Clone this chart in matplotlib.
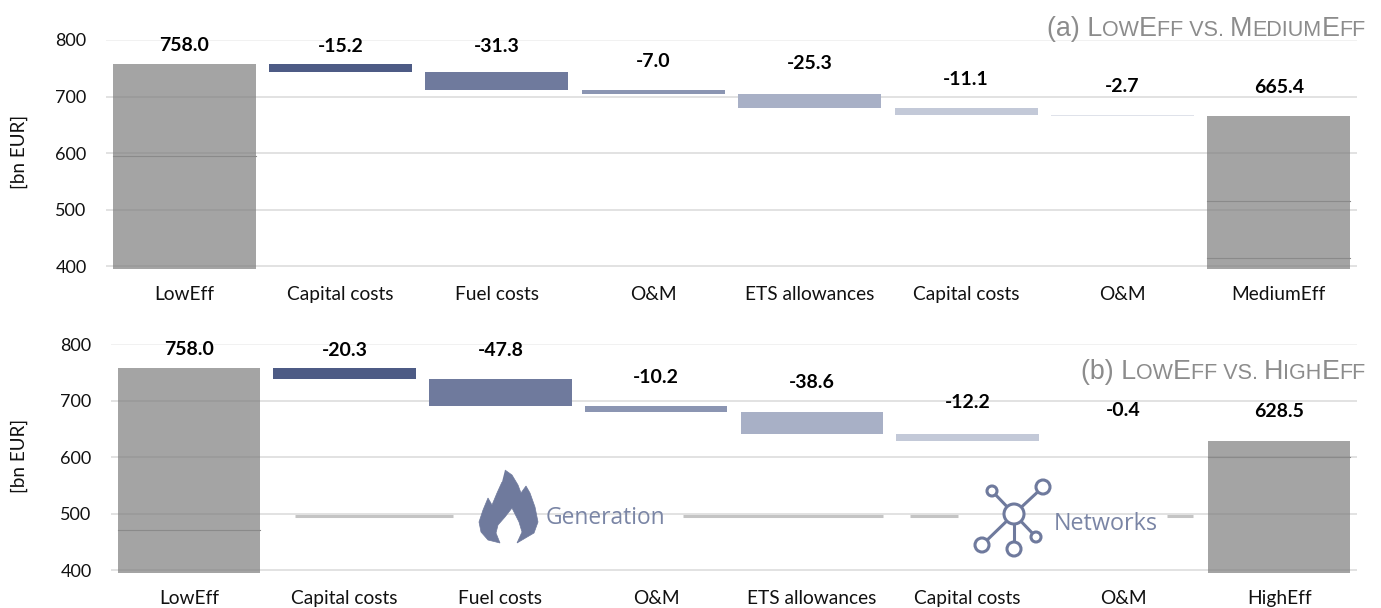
import matplotlib
matplotlib.use("Agg")
import matplotlib.pyplot as plt
from matplotlib.path import Path
from matplotlib.patches import PathPatch, Circle

plt.rcParams["font.family"] = ["Lato", "DejaVu Sans"]

W, H = 1381, 608

# data
cats_a = ["LowEff", "Capital costs", "Fuel costs", "O&M", "ETS allowances", "Capital costs", "O&M", "MediumEff"]
start_a = 758.0
deltas_a = [-15.2, -31.3, -7.0, -25.3, -11.1, -2.7]
end_a = 665.4

cats_b = ["LowEff", "Capital costs", "Fuel costs", "O&M", "ETS allowances", "Capital costs", "O&M", "HighEff"]
start_b = 758.0
deltas_b = [-20.3, -47.8, -10.2, -38.6, -12.2, -0.4]
end_b = 628.5

# thin darker streaks seen inside the grey bars: (bar index, value)
streaks_a = [(0, 595), (7, 515), (7, 415)]
streaks_b = [(0, 470), (7, 600)]

yticks = [400, 500, 600, 700, 800]

# styles / layout
delta_colors = ["#4d5b85", "#6f7a9d", "#8b95b2", "#a8b0c6", "#c3c9d8", "#dfe2ea"]
label_off_a = [18, 17, 26, 29, 30, 29, 28, 29]
label_off_b = [18, 17, 29, 29, 29, 31, 30, 29]
BASE = 394


def px_axes(left, right, top, bottom):
    return fig.add_axes([left / W, 1 - bottom / H, (right - left) / W, (bottom - top) / H])


def waterfall(ax, cats, start, deltas, end, offs, streaks):
    ax.set_xlim(-0.5, 7.5)
    ax.set_ylim(BASE, 800)
    ax.set_yticks(yticks)
    ax.set_xticks(range(8))
    ax.set_xticklabels(cats)
    ax.tick_params(length=0, colors="#111111")
    ax.tick_params(axis="y", pad=14, labelsize=13)
    ax.tick_params(axis="x", pad=12.2, labelsize=13.8)
    for s in ax.spines.values():
        s.set_visible(False)
    for v in yticks:
        ax.axhline(v, color="#f0f0f0" if v == 800 else "#dfdfdf", lw=1.3, zorder=1)
    w = 0.915
    ax.bar([0, 7], [start - BASE, end - BASE], bottom=BASE, width=w, color="#7e7e7e", alpha=0.7, zorder=2, lw=0)
    tops = [start]
    level = start
    for i, d in enumerate(deltas):
        ax.bar(i + 1, -d, bottom=level + d, width=w, color=delta_colors[i], zorder=3, lw=0)
        tops.append(level)
        level += d
    tops.append(end)
    for bar_i, v in streaks:
        ax.plot([bar_i - w / 2, bar_i + w / 2], [v, v], color="#8a8a8a", lw=0.8, zorder=4)
    vals = [start] + deltas + [end]
    for i, v in enumerate(vals):
        ax.annotate(f"{v:.1f}", (i, tops[i]), xytext=(0, offs[i]), textcoords="offset pixels",
                    ha="center", va="center", fontsize=14, fontweight="bold", color="#000000",
                    annotation_clip=False, zorder=6)
    ax.set_ylabel("[bn EUR]", fontsize=13.6, color="#111111")


fig = plt.figure(figsize=(W / 100, H / 100), dpi=100, facecolor="white")

ax1 = px_axes(106, 1357, 40, 269.4)
waterfall(ax1, cats_a, start_a, deltas_a, end_a, label_off_a, streaks_a)
ax1.yaxis.set_label_coords((28 - 106) / 1251, 0.51)

ax2 = px_axes(111, 1357, 344, 573.4)
waterfall(ax2, cats_b, start_b, deltas_b, end_b, label_off_b, streaks_b)
ax2.yaxis.set_label_coords((28 - 111) / 1246, 0.51)

# overlay in pixel coordinates for titles and the icons
ov = fig.add_axes([0, 0, 1, 1], zorder=10)
ov.set_xlim(0, W)
ov.set_ylim(H, 0)
ov.axis("off")
ov.patch.set_alpha(0)


def smallcaps(runs, right, base):
    # right aligned text, built from runs of large and small capitals
    r = fig.canvas.get_renderer()
    x = right
    for txt, big in reversed(runs):
        t = ov.text(x, base, txt, ha="right", va="baseline", family="Liberation Sans",
                    fontsize=19.4 if big else 15.5, color="#8c8c8c")
        x -= t.get_window_extent(r).width


smallcaps([("(a) L", True), ("OW", False), ("E", True), ("FF VS. ", False), ("M", True),
           ("EDIUM", False), ("E", True), ("FF", False)], 1366, 36)
smallcaps([("(b) L", True), ("OW", False), ("E", True), ("FF VS. ", False), ("H", True),
           ("IGH", False), ("E", True), ("FF", False)], 1366, 379)

# grey dashes behind the icons
for x0, x1 in [(295, 453), (683, 883), (910, 958), (1167, 1193)]:
    ov.plot([x0, x1], [516, 516], color="#c4c4c4", lw=2.2, solid_capstyle="butt")

# flame icon
icon = "#6f7a9d"
flame = [(505, 470), (512, 475), (518, 485), (521, 493), (526, 486), (530, 493), (535, 507), (538, 522),
         (534, 533), (517, 543), (522, 532), (519, 522), (512, 508), (505, 517), (498, 525), (496, 533),
         (500, 543), (488, 540), (481, 532), (479, 522), (483, 510), (488, 498), (492, 505), (497, 493),
         (502, 482)]
codes = [Path.MOVETO] + [Path.LINETO] * (len(flame) - 1)
ov.add_patch(PathPatch(Path(flame, codes), fc=icon, ec=icon, lw=0.5))
ov.text(546, 518, "Generation", family="Open Sans", fontsize=16.4, color="#7a85a5", ha="left", va="center")

# network icon
hub = (1014, 514)
nodes = [(1043, 487, 7), (992, 491, 5), (982, 545, 7), (1014, 549, 7), (1036, 537, 5)]
for x, y, r in nodes:
    ov.plot([hub[0], x], [hub[1], y], color=icon, lw=2.2)
    ov.add_patch(Circle((x, y), r, fc="white", ec=icon, lw=2.2, zorder=3))
ov.add_patch(Circle(hub, 10, fc="white", ec=icon, lw=2.2, zorder=3))
ov.text(1054, 524, "Networks", family="Open Sans", fontsize=16.8, color="#7a85a5", ha="left", va="center")

fig.savefig("out.png", dpi=100)
